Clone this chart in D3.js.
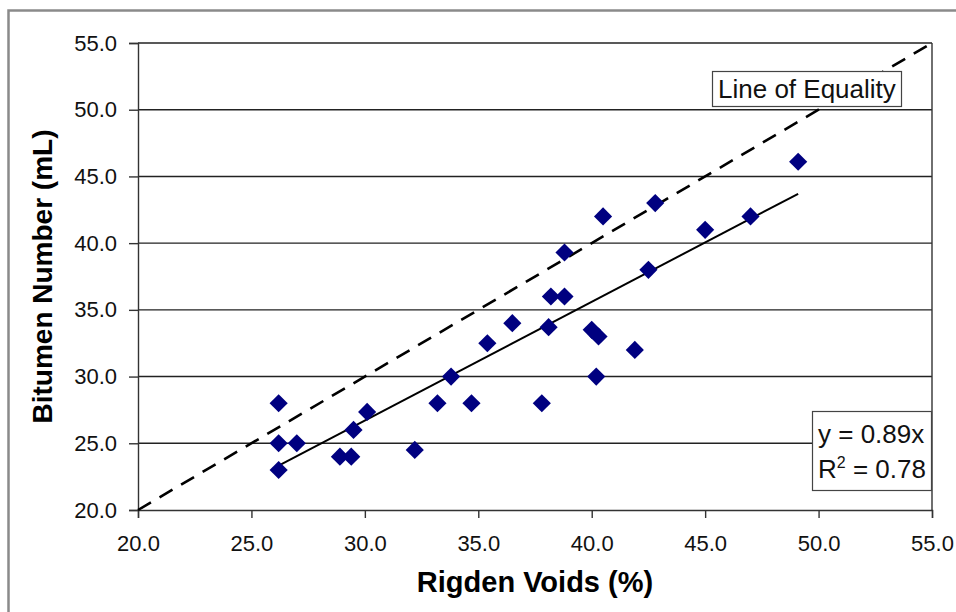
<!DOCTYPE html>
<html>
<head>
<meta charset="utf-8">
<script src="https://cdn.jsdelivr.net/npm/d3@7/dist/d3.min.js"></script>
<style>
  html, body { margin: 0; padding: 0; background: #fff; }
  svg { display: block; font-family: Arial, "Liberation Sans", sans-serif; }
</style>
</head>
<body>
<svg id="chart" width="956" height="612"></svg>
<script>
// Rigden voids (%) against bitumen number (mL)
const rigdenVoids = [26.2, 26.2, 26.2, 27.0, 28.9, 29.4, 29.5, 30.1, 32.2, 33.2,
                     33.8, 34.7, 35.4, 36.5, 37.8, 38.1, 38.2, 38.8, 38.8, 40.0,
                     40.3, 40.2, 40.5, 41.9, 42.5, 42.8, 45.0, 47.0, 49.1];
const bitumenNumber = [28.0, 25.0, 23.0, 25.0, 24.0, 24.0, 26.0, 27.35, 24.5, 28.0,
                       30.0, 28.0, 32.5, 34.0, 28.0, 33.7, 36.0, 36.0, 39.3, 33.5,
                       33.0, 30.0, 42.0, 32.0, 38.0, 43.0, 41.0, 42.0, 46.1];
const tickValues = [20, 25, 30, 35, 40, 45, 50, 55];
const slope = 0.89;
const rSquared = 0.78;

const svg = d3.select("#chart");
const plotLeft = 138, plotRight = 932, plotTop = 43, plotBottom = 510;

const x = d3.scaleLinear().domain([20, 55]).range([plotLeft, plotRight]);
const y = d3.scaleLinear().domain([20, 55]).range([plotBottom, plotTop]);

// Outer chart frame
svg.append("rect")
  .attr("x", 8.5).attr("y", 10.5)
  .attr("width", 1000).attr("height", 700)
  .attr("fill", "none").attr("stroke", "#8a8a8a").attr("stroke-width", 2.5);

// Horizontal gridlines
svg.append("g")
  .selectAll("line")
  .data(tickValues.slice(1))
  .join("line")
  .attr("x1", plotLeft).attr("x2", plotRight)
  .attr("y1", d => y(d)).attr("y2", d => y(d))
  .attr("stroke", "#222").attr("stroke-width", 1.4);

// Right border of the plot area
svg.append("line")
  .attr("x1", plotRight).attr("x2", plotRight).attr("y1", plotTop).attr("y2", plotBottom)
  .attr("stroke", "#333").attr("stroke-width", 1.4);

const fmt = d3.format(".1f");

// Y axis
const yAxis = svg.append("g")
  .attr("transform", `translate(${plotLeft},0)`)
  .call(d3.axisLeft(y).tickValues(tickValues).tickFormat(fmt).tickSize(9).tickPadding(12));
yAxis.select(".domain").attr("stroke", "#333").attr("stroke-width", 1.4);
yAxis.selectAll(".tick line").attr("stroke", "#333").attr("stroke-width", 1.4);
yAxis.selectAll(".tick text")
  .attr("font-size", 22).attr("fill", "#111")
  .attr("font-family", "Arial, 'Liberation Sans', sans-serif");

// X axis
const xAxis = svg.append("g")
  .attr("transform", `translate(0,${plotBottom})`)
  .call(d3.axisBottom(x).tickValues(tickValues).tickFormat(fmt).tickSize(8).tickPadding(17));
xAxis.select(".domain").attr("stroke", "#333").attr("stroke-width", 1.4);
xAxis.selectAll(".tick line").attr("stroke", "#333").attr("stroke-width", 1.4);
xAxis.selectAll(".tick text")
  .attr("font-size", 22).attr("fill", "#111")
  .attr("font-family", "Arial, 'Liberation Sans', sans-serif");

// Line of equality
svg.append("line")
  .attr("x1", x(20)).attr("y1", y(20))
  .attr("x2", x(55)).attr("y2", y(55))
  .attr("stroke", "#000").attr("stroke-width", 2.6)
  .attr("stroke-dasharray", "15,10");

// Linear trend through the origin, over the data range
const [xMin, xMax] = d3.extent(rigdenVoids);
svg.append("line")
  .attr("x1", x(xMin)).attr("y1", y(slope * xMin))
  .attr("x2", x(xMax)).attr("y2", y(slope * xMax))
  .attr("stroke", "#000").attr("stroke-width", 2);

// Data markers (diamonds)
const diamond = d3.symbol().type(d3.symbolSquare).size(165);
svg.append("g")
  .selectAll("path")
  .data(rigdenVoids.map((v, i) => [v, bitumenNumber[i]]))
  .join("path")
  .attr("d", diamond)
  .attr("transform", d => `translate(${x(d[0])},${y(d[1])}) rotate(45)`)
  .attr("fill", "#000080");

// Label box: Line of Equality
const eq = svg.append("g");
eq.append("rect")
  .attr("x", 712.5).attr("y", 71.5).attr("width", 189).attr("height", 35)
  .attr("fill", "#fff").attr("stroke", "#444").attr("stroke-width", 1.2);
eq.append("text")
  .attr("x", 718).attr("y", 98)
  .attr("font-size", 26).attr("fill", "#111")
  .text("Line of Equality");

// Label box: trend equation
const tr = svg.append("g");
tr.append("rect")
  .attr("x", 812.5).attr("y", 411.5).attr("width", 119).attr("height", 79)
  .attr("fill", "#fff").attr("stroke", "#444").attr("stroke-width", 1.2);
tr.append("text")
  .attr("x", 818).attr("y", 443)
  .attr("font-size", 26).attr("fill", "#111")
  .text(`y = ${slope}x`);
const r2 = tr.append("text")
  .attr("x", 818).attr("y", 478)
  .attr("font-size", 26).attr("fill", "#111");
r2.append("tspan").text("R");
r2.append("tspan").attr("dy", -10).attr("font-size", 16).text("2");
r2.append("tspan").attr("dy", 10).text(` = ${rSquared}`);

// Axis titles
svg.append("text")
  .attr("x", (plotLeft + plotRight) / 2).attr("y", 592)
  .attr("text-anchor", "middle")
  .attr("font-size", 29).attr("font-weight", "bold").attr("fill", "#000")
  .text("Rigden Voids (%)");

svg.append("text")
  .attr("transform", `translate(52,${(plotTop + plotBottom) / 2}) rotate(-90)`)
  .attr("text-anchor", "middle")
  .attr("font-size", 28).attr("font-weight", "bold").attr("fill", "#000")
  .text("Bitumen Number (mL)");
</script>
</body>
</html>
